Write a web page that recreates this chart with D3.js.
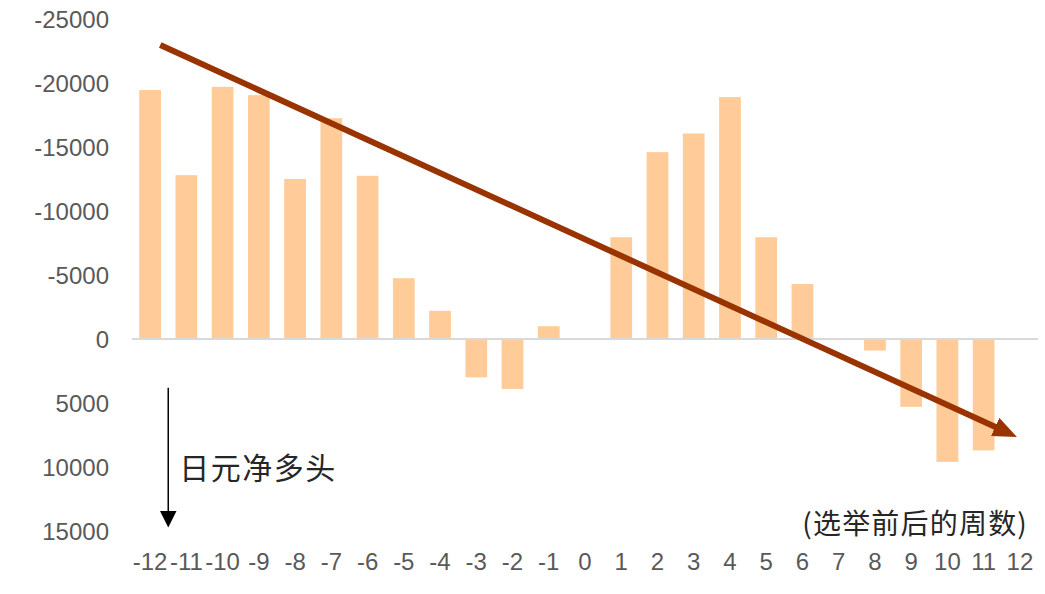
<!DOCTYPE html>
<html>
<head>
<meta charset="utf-8">
<script src="https://cdn.jsdelivr.net/npm/d3@7"></script>
<style>
  body { margin: 0; background: #fff; }
  .axis text { font-family: "Liberation Sans", Arial, sans-serif; font-size: 24px; fill: #595959; }
  .note { font-family: "Noto Sans CJK SC", sans-serif; fill: #262626; }
</style>
</head>
<body>
<svg id="chart" width="1045" height="594"></svg>
<script>
// weeks before/after the election
var weeks = d3.range(-12, 13);
// JPY net positions (negative = net long, drawn upward)
var netPos = [-19450, -12800, -19700, -19050, -12500, -17250, -12750, -4750, -2200, 3000, 3900, -1000, 0,
              -7950, -14600, -16050, -18900, -7950, -4300, 0, 900, 5300, 9600, 8700, 0];
var yTicks = [-25000, -20000, -15000, -10000, -5000, 0, 5000, 10000, 15000];
// trend arrow ends, in [week, value]
var trend = [[-11.72, -22970], [11.92, 7650]];
// "net long" pointer, in [week, value]
var pointer = [[-11.5, 3800], [-11.5, 14700]];

var [plotL, plotR, plotT, plotB] = [132, 1038, 19, 531];

var svg = d3.select('#chart');

var xScale = d3.scaleBand()
    .domain(weeks)
    .range([plotL, plotR])
    .paddingInner(0.4)
    .paddingOuter(0.2);
// continuous version for the annotations
var xLin = d3.scaleLinear()
    .domain([weeks[0], weeks[weeks.length - 1]])
    .range([xScale(weeks[0]) + xScale.bandwidth() / 2, xScale(weeks[weeks.length - 1]) + xScale.bandwidth() / 2]);
var yScale = d3.scaleLinear()
    .domain([-25000, 15000])
    .range([plotT, plotB]);

var defs = svg.append('defs');
defs.append('marker')
    .attr('id', 'brownHead')
    .attr('viewBox', '0 0 12 10')
    .attr('refX', 2).attr('refY', 5)
    .attr('markerWidth', 4).attr('markerHeight', 3.33)
    .attr('orient', 'auto')
    .append('path').attr('d', 'M0,0 L12,5 L0,10 Z').attr('fill', '#993300');
defs.append('marker')
    .attr('id', 'blackHead')
    .attr('viewBox', '0 0 10 10')
    .attr('refX', 8).attr('refY', 5)
    .attr('markerWidth', 17).attr('markerHeight', 17)
    .attr('markerUnits', 'userSpaceOnUse')
    .attr('orient', 'auto')
    .append('path').attr('d', 'M0,0 L10,5 L0,10 Z').attr('fill', '#000');

/** Bars */
svg.append('g').selectAll('rect')
    .data(weeks.map((w, i) => ({ w: w, v: netPos[i] })).filter(d => d.v !== 0))
    .enter()
    .append('rect')
    .attr('x', d => xScale(d.w))
    .attr('y', d => yScale(Math.min(0, d.v)))
    .attr('width', xScale.bandwidth())
    .attr('height', d => Math.abs(yScale(d.v) - yScale(0)))
    .attr('fill', '#FFCC99');

/** Zero line */
svg.append('line')
    .attr('x1', plotL).attr('x2', plotR)
    .attr('y1', yScale(0)).attr('y2', yScale(0))
    .attr('stroke', '#D9D9D9').attr('stroke-width', 2);

/** Y axis labels */
var yAxis = svg.append('g')
    .attr('class', 'axis')
    .attr('transform', 'translate(' + (plotL - 23) + ',0)')
    .call(d3.axisLeft(yScale).tickValues(yTicks).tickFormat(d => String(d)).tickSize(0).tickPadding(0));
yAxis.select('.domain').remove();
yAxis.selectAll('text').attr('dy', '0.35em');

/** X axis labels */
var xAxis = svg.append('g')
    .attr('class', 'axis')
    .attr('transform', 'translate(0,' + (plotB + 22) + ')')
    .call(d3.axisBottom(xScale).tickSize(0).tickPadding(0));
xAxis.select('.domain').remove();

/** Trend arrow: stop the shaft short so the head tip lands on the end point */
var tx0 = xLin(trend[0][0]), ty0 = yScale(trend[0][1]);
var tx1 = xLin(trend[1][0]), ty1 = yScale(trend[1][1]);
var len = Math.hypot(tx1 - tx0, ty1 - ty0), back = 20;
svg.append('line')
    .attr('x1', tx0).attr('y1', ty0)
    .attr('x2', tx1 - (tx1 - tx0) / len * back).attr('y2', ty1 - (ty1 - ty0) / len * back)
    .attr('stroke', '#993300').attr('stroke-width', 6)
    .attr('marker-end', 'url(#brownHead)');

/** Net long pointer */
svg.append('line')
    .attr('x1', xLin(pointer[0][0])).attr('y1', yScale(pointer[0][1]))
    .attr('x2', xLin(pointer[1][0])).attr('y2', yScale(pointer[1][1]) - 3)
    .attr('stroke', '#000').attr('stroke-width', 1.5)
    .attr('marker-end', 'url(#blackHead)');

svg.append('text')
    .attr('class', 'note')
    .attr('x', xLin(pointer[0][0]) + 11)
    .attr('y', 479)
    .attr('font-size', 30)
    .attr('letter-spacing', 1.5)
    .text('日元净多头');

svg.append('text')
    .attr('class', 'note')
    .attr('x', plotR - 10)
    .attr('y', 534)
    .attr('text-anchor', 'end')
    .attr('font-size', 28)
    .attr('letter-spacing', 1.2)
    .text('(选举前后的周数)');
</script>
</body>
</html>
